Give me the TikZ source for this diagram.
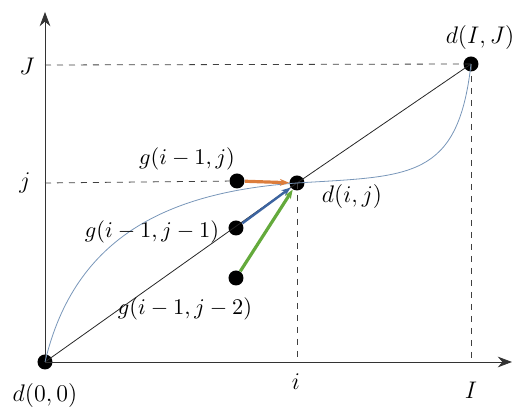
\documentclass[tikz,border=0pt]{standalone}
\usepackage{amsmath,amssymb}
\usetikzlibrary{arrows.meta, positioning, calc}
\definecolor{curveblue}{RGB}{120,150,185}
\definecolor{pathorange}{RGB}{220,125,60}
\definecolor{pathgreen}{RGB}{100,170,60}
\definecolor{pathblue}{RGB}{60,100,160}

\begin{document}
\begin{tikzpicture}[
    x=0.5pt, y=-0.5pt,
    dot/.style={circle, fill=black, inner sep=0pt, minimum size=7.5pt},
    axis/.style={-{Stealth[length=2.5mm]}, thin, black!80},
    guide/.style={dashed, thin, black!75},
    move/.style={-{Stealth[length=1.6mm]}, line width=1.6pt},
    lbl/.style={font=\large},
    glbl/.style={font=\normalsize, scale=1.12}
]
\useasboundingbox (0,0) rectangle (516,415);

% grid points
\node[dot] (d00) at (45,362) {};
\node[dot] (dIJ) at (471,64) {};
\node[dot] (dij) at (297,183) {};
\node[dot] (g1) at (237,181) {};
\node[dot] (g2) at (236,228) {};
\node[dot] (g3) at (236,278) {};

% axes
\coordinate (xend) at (512,362);
\coordinate (yend) at (45,12);
\draw[axis] (d00.center) -- (xend);
\draw[axis] (d00.center) -- (yend);

% guide lines
\draw[guide] (45,65) -- (dIJ.center);
\draw[guide] (dIJ.center) -- (471,362);
\draw[guide] (45,183) -- (g1);
\draw[guide] (dij.center) -- (297,362);

% diagonal and warping curve
\draw[thin, black!85] (d00.center) -- (dij.center) -- (dIJ.center);
\draw[thin, curveblue] (d00.center) .. controls (75,235) and (170,192) .. (dij.center)
      .. controls (410,176) and (458,180) .. (dIJ.center);

% moves into d(i,j)
\draw[move, pathorange] (g1) -- (dij);
\draw[move, pathblue, line width=1.2pt] (g2) -- (dij);
\draw[move, pathgreen] (g3) -- (dij);

% labels
\node[lbl] at (27,66) {$J$};
\node[lbl] at (25,183) {$j$};
\node[lbl] at (296,382) {$i$};
\node[lbl] at (471,390) {$I$};
\node[lbl] at (45,396) {$d(0,0)$};
\node[lbl] at (480,38) {$d(I,J)$};
\node[lbl] at (352,197) {$d(i,j)$};
\node[glbl] at (187,159) {$g(i-1,j)$};
\node[glbl] at (152,232) {$g(i-1,j-1)$};
\node[glbl] at (185,309) {$g(i-1,j-2)$};

\end{tikzpicture}
\end{document}
